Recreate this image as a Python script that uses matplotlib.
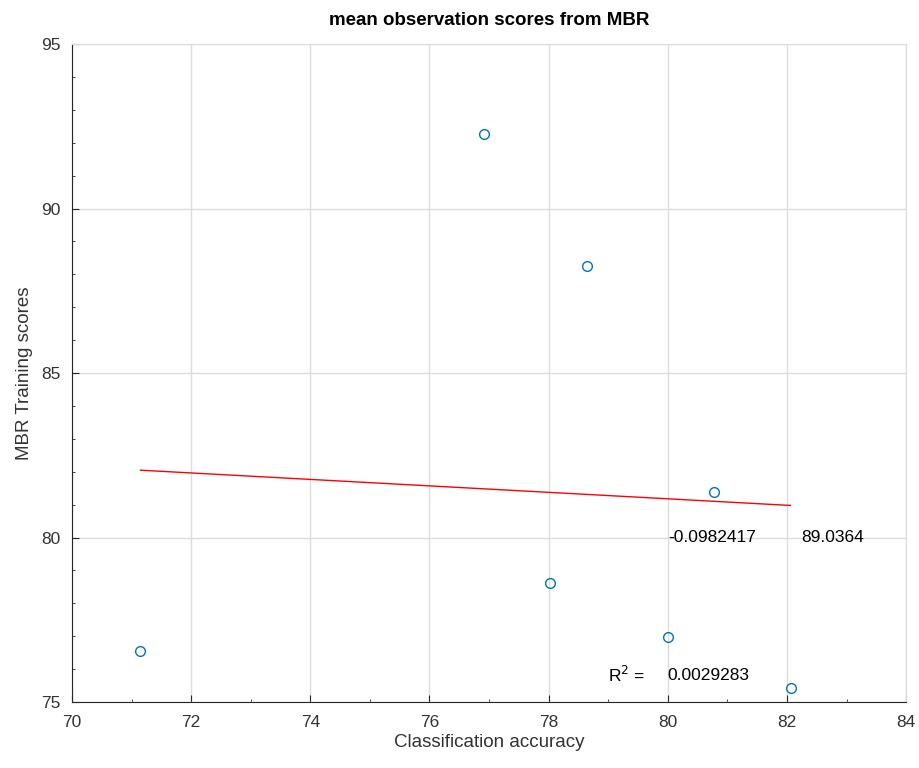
import numpy as np
import matplotlib
matplotlib.use("Agg")
import matplotlib.pyplot as plt
from matplotlib.ticker import MultipleLocator

plt.rcParams['font.family'] = ['Liberation Sans', 'DejaVu Sans']

# values
accuracy = [71.15, 76.92, 78.02, 78.64, 80.00, 80.77, 82.06]
training = [76.56, 92.26, 78.62, 88.26, 76.98, 81.37, 75.42]
slope = -0.0982417
intercept = 89.0364
r_squared = 0.0029283

fig = plt.figure(figsize=(9.19, 7.68), dpi=100)
ax = fig.add_axes([0.0783, 0.0859, 0.9077, 0.8568])

ax.plot(accuracy, training, 'o', mfc='none', mec=(0, 0.447, 0.741),
        ms=7, mew=1.0, zorder=3)

xfit = np.array([min(accuracy), max(accuracy)])
ax.plot(xfit, slope * xfit + intercept, color='red', lw=1.0, zorder=2)

ax.text(80.0, 80.0, '%g' % slope, fontsize=12.5, va='center', ha='left')
ax.text(82.24, 80.0, '%g' % intercept, fontsize=12.5, va='center', ha='left')
ax.text(79.0, 75.82, r'R$^2$ =', fontsize=12.5, va='center', ha='left')
ax.text(80.0, 75.82, '%.7f' % r_squared, fontsize=12.5, va='center', ha='left')

ax.set_xlim(70, 84)
ax.set_ylim(75, 95)
ax.xaxis.set_major_locator(MultipleLocator(2))
ax.xaxis.set_minor_locator(MultipleLocator(1))
ax.yaxis.set_major_locator(MultipleLocator(5))
ax.yaxis.set_minor_locator(MultipleLocator(1))
ax.tick_params(which='both', direction='in', colors='#262626',
               labelcolor='#333333', labelsize=12.5)
ax.tick_params(which='major', length=5)
ax.tick_params(which='minor', length=2.5)
ax.tick_params(axis='y', which='major', pad=8)
ax.tick_params(axis='x', which='major', pad=9)
ax.tick_params(top=False, right=False, which='both')

ax.grid(True, which='major', color='#dcdcdc', lw=1.0)
ax.set_axisbelow(True)
for side in ['left', 'bottom']:
    ax.spines[side].set_color('#262626')
for side in ['top', 'right']:
    ax.spines[side].set_color('#dcdcdc')

ax.set_title('mean observation scores from MBR', fontsize=13.5,
             fontweight='bold', pad=14)
ax.set_xlabel('Classification accuracy', fontsize=13.5, color='#333333',
              labelpad=3)
ax.set_ylabel('MBR Training scores', fontsize=13.5, color='#333333',
              labelpad=6)

fig.savefig('out.png', dpi=100)
